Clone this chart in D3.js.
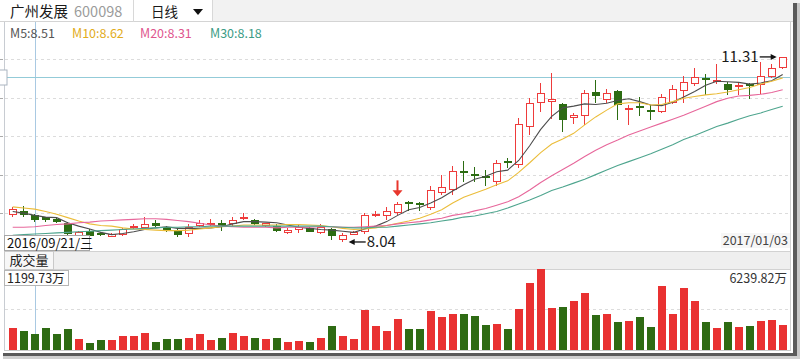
<!DOCTYPE html>
<html>
<head>
<meta charset="utf-8">
<script src="https://cdn.jsdelivr.net/npm/d3@7/dist/d3.min.js"></script>
<style>
  body { margin: 0; background: #fff; overflow: hidden; }
  svg text { font-family: "Microsoft YaHei", "Noto Sans CJK SC", sans-serif; }
</style>
</head>
<body>
<div id="chart"></div>
<script>
// 广州发展 600098, daily candles 2016/09/19 - 2017/01/03
const dates = [
  "2016/09/19","2016/09/20","2016/09/21","2016/09/22","2016/09/23","2016/09/26","2016/09/27","2016/09/28","2016/09/29","2016/09/30",
  "2016/10/10","2016/10/11","2016/10/12","2016/10/13","2016/10/14","2016/10/17","2016/10/18","2016/10/19","2016/10/20","2016/10/21",
  "2016/10/24","2016/10/25","2016/10/26","2016/10/27","2016/10/28","2016/10/31","2016/11/01","2016/11/02","2016/11/03","2016/11/04",
  "2016/11/07","2016/11/08","2016/11/09","2016/11/10","2016/11/11","2016/11/14","2016/11/15","2016/11/16","2016/11/17","2016/11/18",
  "2016/11/21","2016/11/22","2016/11/23","2016/11/24","2016/11/25","2016/11/28","2016/11/29","2016/11/30","2016/12/01","2016/12/02",
  "2016/12/05","2016/12/06","2016/12/07","2016/12/08","2016/12/09","2016/12/12","2016/12/13","2016/12/14","2016/12/15","2016/12/16",
  "2016/12/19","2016/12/20","2016/12/21","2016/12/22","2016/12/23","2016/12/26","2016/12/27","2016/12/28","2016/12/29","2016/12/30",
  "2017/01/03"
];

const open = [
  8.52, 8.59, 8.51, 8.48, 8.44, 8.37, 8.14, 8.24, 8.20, 8.13,
  8.17, 8.29, 8.29, 8.37, 8.30, 8.24, 8.18, 8.33, 8.35, 8.37,
  8.35, 8.46, 8.43, 8.32, 8.33, 8.19, 8.25, 8.28, 8.20, 8.27,
  8.08, 8.17, 8.22, 8.51, 8.50, 8.55, 8.74, 8.73, 8.64, 8.90,
  8.96, 9.29, 9.24, 9.21, 9.10, 9.47, 9.40, 10.07, 10.50, 10.52,
  10.47, 10.23, 10.26, 10.69, 10.55, 10.71, 10.37, 10.45, 10.38, 10.34,
  10.50, 10.71, 10.84, 10.93, 10.88, 10.84, 10.77, 10.83, 10.81, 10.95, 11.11
];
const high = [
  8.66, 8.67, 8.53, 8.49, 8.48, 8.40, 8.23, 8.27, 8.22, 8.20,
  8.29, 8.36, 8.49, 8.42, 8.32, 8.27, 8.35, 8.43, 8.44, 8.42,
  8.48, 8.56, 8.45, 8.38, 8.36, 8.28, 8.34, 8.30, 8.35, 8.29,
  8.19, 8.23, 8.55, 8.58, 8.66, 8.74, 8.76, 8.75, 9.03, 9.22,
  9.38, 9.47, 9.37, 9.31, 9.49, 9.52, 10.23, 10.59, 10.85, 11.03,
  10.50, 10.32, 10.73, 10.90, 10.75, 10.73, 10.46, 10.60, 10.46, 10.66,
  10.81, 10.97, 11.11, 11.00, 11.18, 10.87, 10.87, 10.85, 11.22, 11.18, 11.31
];
const low = [
  8.48, 8.49, 8.39, 8.40, 8.37, 8.16, 8.12, 8.12, 8.14, 8.12,
  8.15, 8.27, 8.27, 8.30, 8.22, 8.12, 8.13, 8.31, 8.32, 8.24,
  8.32, 8.42, 8.34, 8.30, 8.21, 8.18, 8.20, 8.21, 8.18, 8.07,
  8.04, 8.16, 8.18, 8.48, 8.43, 8.52, 8.58, 8.58, 8.60, 8.87,
  8.87, 9.10, 9.10, 9.03, 9.03, 9.34, 9.34, 9.93, 10.34, 10.22,
  9.99, 10.12, 10.10, 10.49, 10.49, 10.19, 10.10, 10.26, 10.19, 10.32,
  10.48, 10.49, 10.79, 10.63, 10.84, 10.63, 10.63, 10.56, 10.66, 10.93, 11.10
];
const close = [
  8.62, 8.51, 8.42, 8.42, 8.39, 8.18, 8.21, 8.14, 8.16, 8.18,
  8.27, 8.33, 8.36, 8.33, 8.24, 8.16, 8.31, 8.37, 8.38, 8.32,
  8.43, 8.49, 8.36, 8.37, 8.23, 8.26, 8.30, 8.22, 8.31, 8.14,
  8.16, 8.22, 8.52, 8.54, 8.58, 8.71, 8.72, 8.71, 8.95, 9.02,
  9.29, 9.27, 9.22, 9.19, 9.43, 9.44, 10.13, 10.49, 10.68, 10.56,
  10.19, 10.28, 10.68, 10.62, 10.67, 10.46, 10.41, 10.42, 10.35, 10.60,
  10.75, 10.86, 10.96, 10.90, 10.91, 10.73, 10.82, 10.81, 10.97, 11.12, 11.30
];
// 成交量, 万股
const volume = [
  1654, 1402, 1199.73, 1685, 1230, 1578, 789, 505, 735, 735,
  1019, 1042, 1249, 613, 789, 789, 889, 1226, 766, 866,
  1302, 1042, 866, 780, 894, 587, 638, 613, 894, 1812,
  1021, 791, 3063, 1838, 1455, 2349, 1557, 1557, 2961, 2501,
  2757, 2706, 2552, 1915, 1940, 1557, 3140, 5105, 6239.82, 3165,
  3242, 3701, 4339, 2680, 2757, 2119, 2170, 2501, 1710, 4875,
  2757, 4747, 3701, 2093, 1659, 2093, 1736, 1812, 2170, 2246, 1863
];

// moving averages as drawn
const ma5 = [
  8.58, 8.55, 8.51, 8.48, 8.47, 8.38, 8.32, 8.27, 8.21, 8.17,
  8.19, 8.22, 8.26, 8.29, 8.31, 8.28, 8.28, 8.28, 8.29, 8.31,
  8.36, 8.40, 8.40, 8.39, 8.38, 8.34, 8.30, 8.28, 8.26, 8.25,
  8.23, 8.21, 8.27, 8.32, 8.40, 8.51, 8.61, 8.65, 8.73, 8.82,
  8.94, 9.05, 9.15, 9.20, 9.28, 9.31, 9.48, 9.74, 10.03, 10.26,
  10.41, 10.44, 10.48, 10.47, 10.49, 10.54, 10.57, 10.52, 10.46, 10.45,
  10.51, 10.60, 10.70, 10.81, 10.88, 10.87, 10.86, 10.83, 10.85, 10.89, 11.00
];
const ma10 = [
  8.66, 8.64, 8.62, 8.58, 8.53, 8.47, 8.41, 8.36, 8.33, 8.32,
  8.29, 8.27, 8.26, 8.25, 8.24, 8.24, 8.25, 8.27, 8.29, 8.31,
  8.32, 8.34, 8.34, 8.34, 8.34, 8.35, 8.35, 8.34, 8.33, 8.31,
  8.28, 8.26, 8.27, 8.29, 8.33, 8.37, 8.41, 8.46, 8.53, 8.61,
  8.73, 8.83, 8.90, 8.97, 9.05, 9.12, 9.27, 9.44, 9.62, 9.77,
  9.86, 9.96, 10.11, 10.25, 10.37, 10.48, 10.50, 10.50, 10.46, 10.47,
  10.52, 10.58, 10.61, 10.64, 10.66, 10.69, 10.73, 10.77, 10.83, 10.88, 10.94
];
const ma20 = [
  8.30, 8.30, 8.31, 8.33, 8.35, 8.36, 8.38, 8.39, 8.41, 8.42,
  8.43, 8.44, 8.45, 8.45, 8.44, 8.42, 8.40, 8.37, 8.34, 8.32,
  8.31, 8.30, 8.30, 8.30, 8.29, 8.30, 8.30, 8.30, 8.31, 8.31,
  8.30, 8.30, 8.31, 8.32, 8.33, 8.36, 8.38, 8.40, 8.43, 8.46,
  8.51, 8.54, 8.59, 8.63, 8.69, 8.75, 8.84, 8.96, 9.09, 9.21,
  9.32, 9.43, 9.55, 9.66, 9.76, 9.84, 9.93, 10.00, 10.07, 10.14,
  10.21, 10.28, 10.36, 10.44, 10.52, 10.58, 10.62, 10.63, 10.65, 10.68, 10.73
];
const ma30 = [
  8.16, 8.17, 8.18, 8.19, 8.20, 8.21, 8.22, 8.23, 8.24, 8.25,
  8.26, 8.27, 8.28, 8.29, 8.30, 8.30, 8.31, 8.31, 8.32, 8.32,
  8.32, 8.32, 8.32, 8.32, 8.32, 8.32, 8.32, 8.32, 8.32, 8.31,
  8.30, 8.29, 8.29, 8.30, 8.30, 8.32, 8.34, 8.36, 8.38, 8.41,
  8.44, 8.48, 8.50, 8.54, 8.58, 8.64, 8.71, 8.78, 8.86, 8.95,
  9.01, 9.08, 9.15, 9.23, 9.31, 9.39, 9.46, 9.53, 9.60, 9.68,
  9.76, 9.85, 9.92, 10.00, 10.08, 10.14, 10.21, 10.27, 10.32, 10.38, 10.44
];

const hoverIndex = 2;      // crosshair sits on 2016/09/21
const hoverPrice = 10.95;  // crosshair horizontal
const signalIndex = 35;    // red arrow marker
const weekdays = "日一二三四五六";

const W = 800, H = 359;
const red = "#ee3b3b", green = "#2c6c12";
const maColors = ["#4d4d4d", "#ebbd3a", "#e7679b", "#4ea58e"];
const maTextColors = ["#555", "#e2ac1c", "#e0568e", "#3b9c85"];

const svg = d3.select("#chart").append("svg")
  .attr("width", W)
  .attr("height", H);

// scales
const x = d3.scaleBand().domain(dates).range([7.2, 788.2]);
const y = d3.scaleLinear().domain([7.87, 11.95]).range([251.6, 20.7]);
const vy = d3.scaleLinear().domain([0, d3.max(volume)]).range([349.5, 268.5]);
const bw = 8;
const cx = i => x(dates[i]) + x.bandwidth() / 2;
const left = i => Math.round(cx(i) - bw / 2);

// header
svg.append("rect").attr("x", 212).attr("y", 0).attr("width", W - 212).attr("height", 22).attr("fill", "#f2f2f2");
svg.append("line").attr("x1", 0).attr("x2", W).attr("y1", 21.5).attr("y2", 21.5).attr("stroke", "#d4d4d4");
[133.5, 212.5].forEach(v => svg.append("line").attr("x1", v).attr("x2", v).attr("y1", 0).attr("y2", 22).attr("stroke", "#d8d8d8"));
svg.append("text").attr("x", 10).attr("y", 16.5).attr("font-size", 14.5).attr("fill", "#1a1a1a").text("广州发展");
svg.append("text").attr("x", 74).attr("y", 16.5).attr("font-size", 14.5).attr("fill", "#9b9b9b").text("600098");
svg.append("text").attr("x", 151).attr("y", 16.5).attr("font-size", 13.5).attr("fill", "#1a1a1a").text("日线");
svg.append("path").attr("d", "M193,9L203,9L198,15Z").attr("fill", "#111");

// main panel frame + grid
const plot = svg.append("g");
plot.append("line").attr("x1", 4.5).attr("x2", 4.5).attr("y1", 22).attr("y2", 351).attr("stroke", "#c8ccd2");
plot.append("line").attr("x1", 790.5).attr("x2", 790.5).attr("y1", 22).attr("y2", 351).attr("stroke", "#d0d0d0");

const [p0, p1] = y.domain();
const gridVals = d3.range(1, 6).map(k => p0 + k * (p1 - p0) / 6);
plot.selectAll(".grid").data(gridVals).join("line")
  .attr("x1", 5).attr("x2", 790)
  .attr("y1", d => Math.round(y(d)) + 0.5).attr("y2", d => Math.round(y(d)) + 0.5)
  .attr("stroke", "#dcdcdc").attr("stroke-dasharray", "3,3");
// small tick stubs where the price labels sit off the left edge
plot.selectAll(".tick").data(gridVals).join("line")
  .attr("x1", 0).attr("x2", 3)
  .attr("y1", d => Math.round(y(d)) + 0.5).attr("y2", d => Math.round(y(d)) + 0.5)
  .attr("stroke", "#aaa");

svg.append("clipPath").attr("id", "clip-main")
  .append("rect").attr("x", 5).attr("y", 22).attr("width", 785).attr("height", 229.5);

// crosshair
const hx = Math.round(cx(hoverIndex)) + 0.5;
const hy = Math.round(y(hoverPrice)) + 0.5;
plot.append("line").attr("x1", hx).attr("x2", hx).attr("y1", 22).attr("y2", 251).attr("stroke", "#a9c9e2");
plot.append("line").attr("x1", 5).attr("x2", 790).attr("y1", hy).attr("y2", hy).attr("stroke", "#93cbd8");
plot.append("rect").attr("x", -40).attr("y", hy - 7.5).attr("width", 47).attr("height", 15)
  .attr("fill", "#fff").attr("stroke", "#aab4c0");

// candles
const candles = dates.map((d, i) => ({ i, o: open[i], h: high[i], l: low[i], c: close[i] }));
const cg = svg.append("g").attr("clip-path", "url(#clip-main)");

candles.forEach(d => {
  const up = d.c >= d.o;
  const col = up ? red : green;
  const L = left(d.i);
  const wx = L + 3.5;
  const top = Math.round(y(Math.max(d.o, d.c)));
  let bot = Math.round(y(Math.min(d.o, d.c)));
  const yh = Math.round(y(d.h)), yl = Math.round(y(d.l));
  if (bot - top < 2) bot = top + 2;
  if (up) {
    cg.append("line").attr("x1", wx).attr("x2", wx).attr("y1", yh).attr("y2", top).attr("stroke", col);
    cg.append("line").attr("x1", wx).attr("x2", wx).attr("y1", bot).attr("y2", yl).attr("stroke", col);
    cg.append("rect").attr("x", L + 0.5).attr("y", top + 0.5).attr("width", bw - 1).attr("height", bot - top - 1)
      .attr("fill", "#fff").attr("stroke", col);
  } else {
    cg.append("line").attr("x1", wx).attr("x2", wx).attr("y1", yh).attr("y2", yl).attr("stroke", col);
    cg.append("rect").attr("x", L).attr("y", top).attr("width", bw).attr("height", bot - top).attr("fill", col);
  }
});

// moving average lines
const line = d3.line().x((d, i) => cx(i)).y(d => y(d));
[ma5, ma10, ma20, ma30].forEach((s, k) => {
  cg.append("path").datum(s).attr("d", line)
    .attr("fill", "none").attr("stroke", maColors[k]).attr("stroke-width", 1.1);
});

// legend (values at crosshair)
const legend = [["M5", ma5], ["M10", ma10], ["M20", ma20], ["M30", ma30]];
const legendX = [10, 72, 140, 210];
legend.forEach(([name, s], k) => {
  svg.append("text").attr("x", legendX[k]).attr("y", 37.5).attr("font-size", 12.5)
    .attr("fill", maTextColors[k]).text(name + ":" + s[hoverIndex].toFixed(2));
});

// red arrow signal
const ax = Math.round(cx(signalIndex)) - 0.5;
const tipY = y(high[signalIndex]) - 6;
svg.append("line").attr("x1", ax).attr("x2", ax).attr("y1", tipY - 16).attr("y2", tipY - 5)
  .attr("stroke", "#e8362c").attr("stroke-width", 2);
svg.append("path").attr("d", `M${ax - 5},${tipY - 6}L${ax + 5},${tipY - 6}L${ax},${tipY}Z`).attr("fill", "#e8362c");

// low / high markers
const iLow = d3.minIndex(low), iHigh = d3.maxIndex(high);
const lowY = y(low[iLow]);
const lx = cx(iLow) + 6;
svg.append("line").attr("x1", lx + 2).attr("x2", lx + 17).attr("y1", lowY).attr("y2", lowY).attr("stroke", "#111").attr("stroke-width", 1.3);
svg.append("path").attr("d", `M${lx},${lowY}L${lx + 6},${lowY - 3}L${lx + 6},${lowY + 3}Z`).attr("fill", "#111");
svg.append("text").attr("x", lx + 18).attr("y", lowY).attr("dy", "0.36em").attr("font-size", 15)
  .attr("fill", "#1a1a1a").text(low[iLow].toFixed(2));

const highY = y(high[iHigh]);
const hx2 = cx(iHigh) - 6;
svg.append("line").attr("x1", hx2 - 17).attr("x2", hx2 - 2).attr("y1", highY).attr("y2", highY).attr("stroke", "#111").attr("stroke-width", 1.3);
svg.append("path").attr("d", `M${hx2},${highY}L${hx2 - 6},${highY - 3}L${hx2 - 6},${highY + 3}Z`).attr("fill", "#111");
svg.append("text").attr("x", hx2 - 18).attr("y", highY).attr("dy", "0.36em").attr("font-size", 15)
  .attr("text-anchor", "end").attr("fill", "#1a1a1a").text(high[iHigh].toFixed(2));

// date labels
const [yy, mm, dd] = dates[hoverIndex].split("/").map(Number);
const wd = weekdays[new Date(yy, mm - 1, dd).getDay()];
svg.append("rect").attr("x", 4.5).attr("y", 235.5).attr("width", 85).attr("height", 15)
  .attr("fill", "#fff").attr("stroke", "#a7a7a7");
svg.append("text").attr("x", 7).attr("y", 243).attr("dy", "0.36em").attr("font-size", 13)
  .attr("fill", "#111").text(dates[hoverIndex] + "/" + wd);
svg.append("rect").attr("x", 721).attr("y", 233).attr("width", 69).attr("height", 15).attr("fill", "#f6f6f6");
svg.append("text").attr("x", 788).attr("y", 240.5).attr("dy", "0.36em").attr("font-size", 12.5)
  .attr("text-anchor", "end").attr("fill", "#444").text(dates[dates.length - 1]);

// volume header band
svg.append("rect").attr("x", 5).attr("y", 251.5).attr("width", 785).attr("height", 18).attr("fill", "#efefef");
svg.append("line").attr("x1", 5).attr("x2", 790).attr("y1", 251.5).attr("y2", 251.5).attr("stroke", "#d2d2d2");
svg.append("line").attr("x1", 5).attr("x2", 790).attr("y1", 269.5).attr("y2", 269.5).attr("stroke", "#d2d2d2");
svg.append("rect").attr("x", 4.5).attr("y", 251.5).attr("width", 49).attr("height", 18)
  .attr("fill", "#f7f7f7").attr("stroke", "#c9c9c9");
svg.append("text").attr("x", 29).attr("y", 260.5).attr("dy", "0.36em").attr("text-anchor", "middle")
  .attr("font-size", 13).attr("fill", "#222").text("成交量");

// volume panel
const vg = svg.append("g");
const vMid = Math.round(vy(d3.max(volume) / 2)) + 0.5;
vg.append("line").attr("x1", 5).attr("x2", 790).attr("y1", vMid).attr("y2", vMid)
  .attr("stroke", "#dcdcdc").attr("stroke-dasharray", "3,3");
vg.append("line").attr("x1", hx).attr("x2", hx).attr("y1", 285).attr("y2", 349).attr("stroke", "#a9c9e2");
vg.selectAll(".vbar").data(volume).join("rect")
  .attr("x", (d, i) => left(i))
  .attr("y", d => Math.round(vy(d)))
  .attr("width", bw)
  .attr("height", d => Math.round(vy(0)) - Math.round(vy(d)))
  .attr("fill", (d, i) => close[i] >= open[i] ? "#e93131" : "#2e6b13");
vg.append("line").attr("x1", 4).attr("x2", 791).attr("y1", 350.5).attr("y2", 350.5).attr("stroke", "#c8c8c8");

svg.append("rect").attr("x", 4.5).attr("y", 270.5).attr("width", 64).attr("height", 15)
  .attr("fill", "#fff").attr("stroke", "#b5b5b5");
svg.append("text").attr("x", 7).attr("y", 278).attr("dy", "0.36em").attr("font-size", 12.5)
  .attr("fill", "#222").text(volume[hoverIndex].toFixed(2) + "万");
svg.append("text").attr("x", 787).attr("y", 278).attr("dy", "0.36em").attr("font-size", 12.5)
  .attr("text-anchor", "end").attr("fill", "#333").text(d3.max(volume).toFixed(2) + "万");

// window shadow
svg.append("rect").attr("x", 793).attr("y", 3).attr("width", 4).attr("height", 354).attr("fill", "#5a5a5a");
svg.append("rect").attr("x", 797).attr("y", 3).attr("width", 3).attr("height", 356).attr("fill", "#c8c8c8");
svg.append("rect").attr("x", 3).attr("y", 353).attr("width", 794).attr("height", 3).attr("fill", "#5a5a5a");
svg.append("rect").attr("x", 3).attr("y", 356).attr("width", 797).attr("height", 3).attr("fill", "#cfcfcf");
</script>
</body>
</html>
